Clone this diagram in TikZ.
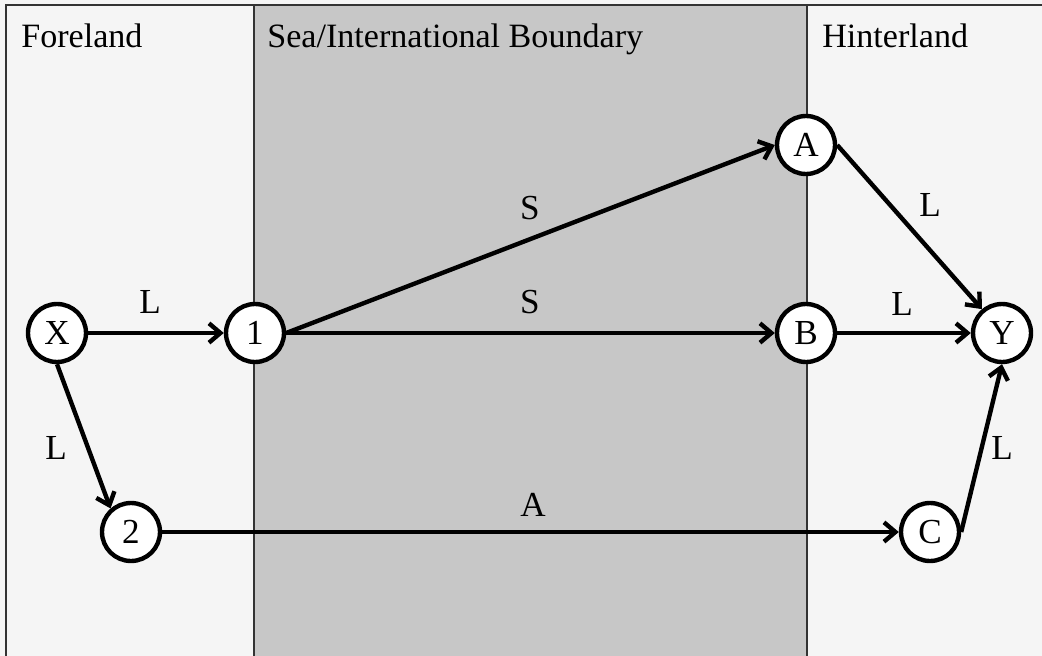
\documentclass[tikz,border=0pt]{standalone}
\usepackage{fontspec}
\setmainfont{Liberation Serif}
\usetikzlibrary{arrows.meta,positioning}
\tikzset{
 stop/.style={draw,circle,line width=2.5pt,fill=white,minimum size=1.16cm,
              inner sep=0pt,font=\fontsize{20}{24}\selectfont},
 lbl/.style={font=\fontsize{20}{24}\selectfont,inner sep=0pt},
 zone/.style={font=\fontsize{19.4}{23}\selectfont,anchor=base west,inner sep=0pt},
 arrow/.style={-{Straight Barb[length=6.5pt,width=11pt]},line width=2.5pt},
}

\begin{document}
\begin{tikzpicture}[x=0.02cm,y=-0.02cm]
\useasboundingbox (0,0) rectangle (1042,656);
% zones
\fill[black!4] (0,0) rectangle (1042,656);
\draw[black!80,line width=0.8pt,fill=black!4] (6,5) rectangle (1060,680);
\draw[black!80,line width=0.8pt,fill=black!22] (254,5) rectangle (807,680);
\node[zone] (fore) at (21,47) {Foreland};
\node[zone] (sea) at (267,47) {Sea/International Boundary};
\node[zone] (hint) at (822,47) {Hinterland};
% stops
\node[stop] (x) at (57,333) {X};
\node[stop] (one) at (255,333) {1};
\node[stop] (two) at (131,532) {2};
\node[stop] (a) at (806,145) {A};
\node[stop] (b) at (806,333) {B};
\node[stop] (c) at (930,532) {C};
\node[stop] (y) at (1002,333) {Y};
% links
\draw[arrow] (x.east) -- (one.west);
\draw[arrow] (one.east) -- (a.west);
\draw[arrow] (one.east) -- (b.west);
\draw[arrow] (b.east) -- (y.west);
\draw[arrow] (a.east) -- (y.130);
\draw[arrow] (x.south) -- (two.131);
\draw[arrow] (two.east) -- (c.west);
\draw[arrow] (c.east) -- (y.south);
% modes
\node[lbl] (lxone) at (150,302) {L};
\node[lbl] (sa) at (530,208) {S};
\node[lbl] (sb) at (530,302) {S};
\node[lbl] (lxtwo) at (56,448) {L};
\node[lbl] (atwoc) at (533,505) {A};
\node[lbl] (lay) at (930,205) {L};
\node[lbl] (lby) at (902,304) {L};
\node[lbl] (lcy) at (1002,448) {L};
\end{tikzpicture}
\end{document}
